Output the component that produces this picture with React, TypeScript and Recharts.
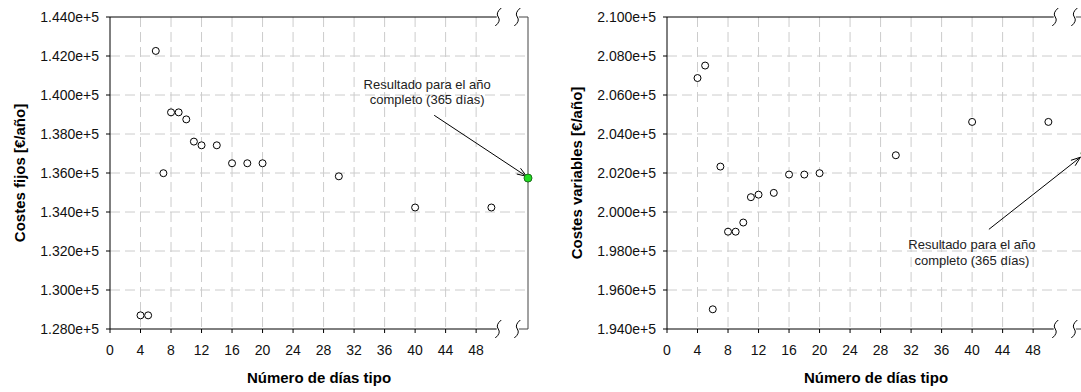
import React from 'react';
import {
  ScatterChart,
  Scatter,
  XAxis,
  YAxis,
  CartesianGrid,
  ReferenceLine,
  ReferenceDot,
} from 'recharts';

// días tipo (eje x)
const diasTipo = [4, 5, 6, 7, 8, 9, 10, 11, 12, 14, 16, 18, 20, 30, 40, 50];
const costesFijos = [
  128700, 128700, 142260, 135990, 139110, 139110, 138750, 137610,
  137420, 137420, 136500, 136500, 136500, 135830, 134230, 134230,
];
const costesVariables = [
  206870, 207510, 195010, 202330, 198990, 198990, 199460, 200760,
  200890, 200980, 201920, 201920, 201990, 202910, 204620, 204620,
];
// resultado año completo (365 días), dibujado tras el corte del eje
const anioCompletoFijos = 135740;
const anioCompletoVariables = 203010;

const xTicks = [0, 4, 8, 12, 16, 20, 24, 28, 32, 36, 40, 44, 48];
const yTicksFijos = [128000, 130000, 132000, 134000, 136000, 138000, 140000, 142000, 144000];
const yTicksVariables = [194000, 196000, 198000, 200000, 202000, 204000, 206000, 208000, 210000];

const X_MAX = 54.8;
const FONT = '"Liberation Sans", Arial, sans-serif';

const OpenCircle = (p: any) => (
  <circle cx={p.cx} cy={p.cy} r={3.5} fill="#fff" stroke="#000" strokeWidth={1} />
);
const GreenCircle = (p: any) => (
  <circle cx={p.cx} cy={p.cy} r={4} fill="#22dd22" stroke="#1a6e1a" strokeWidth={1} />
);

const Squiggle = (p: any) => {
  const { cx, cy } = p;
  return (
    <path
      d={`M${cx + 3},${cy - 9} Q${cx - 3},${cy - 4} ${cx},${cy} Q${cx + 3},${cy + 4} ${cx - 3},${cy + 9}`}
      fill="none"
      stroke="#000"
      strokeWidth={1}
    />
  );
};

const makeArrow = (textDx: number, textDy: number, gap: number) => (p: any) => {
  const { x1, y1, x2, y2 } = p;
  const ang = Math.atan2(y2 - y1, x2 - x1);
  const L = 10;
  const w = 0.35;
  const a = [x2 - L * Math.cos(ang - w), y2 - L * Math.sin(ang - w)];
  const b = [x2 - L * Math.cos(ang + w), y2 - L * Math.sin(ang + w)];
  return (
    <g>
      <line x1={x1} y1={y1} x2={x2} y2={y2} stroke="#000" strokeWidth={1} />
      <polyline points={`${a[0]},${a[1]} ${x2},${y2} ${b[0]},${b[1]}`} fill="none" stroke="#000" strokeWidth={1} />
      <text x={x1 + textDx} y={y1 + textDy} textAnchor="middle" fontSize={13} fill="#222" fontFamily={FONT}>
        Resultado para el año
      </text>
      <text x={x1 + textDx} y={y1 + textDy + gap} textAnchor="middle" fontSize={13} fill="#222" fontFamily={FONT}>
        completo (365 días)
      </text>
    </g>
  );
};

const Line = (p: any) => (
  <line x1={p.x1} y1={p.y1} x2={p.x2} y2={p.y2} stroke={p.stroke} strokeWidth={1} />
);

type PanelProps = {
  values: number[];
  full: number;
  yTicks: number[];
  yLabel: string;
  arrowFrom: { x: number; y: number };
  arrowTo: { x: number; y: number };
  textDx: number;
  textDy: number;
  gap: number;
};

const Panel = ({ values, full, yTicks, yLabel, arrowFrom, arrowTo, textDx, textDy, gap }: PanelProps) => {
  const points = diasTipo.map((d, i) => ({ x: d, y: values[i] }));
  const fullPoint = [{ x: X_MAX, y: full }];
  const yMin = yTicks[0];
  const yMax = yTicks[yTicks.length - 1];
  const tick = { fill: '#111', fontSize: 14, fontFamily: FONT };
  return (
    <ScatterChart width={540} height={392} margin={{ top: 17, right: 12, left: 0, bottom: 0 }}>
      <CartesianGrid
        stroke="#cccccc"
        strokeDasharray="10 5"
        horizontalValues={yTicks.slice(1, -1)}
        verticalValues={xTicks.slice(1)}
      />
      <XAxis
        type="number"
        dataKey="x"
        domain={[0, X_MAX]}
        ticks={xTicks}
        axisLine={false}
        tickLine={{ stroke: '#000' }}
        tickSize={4}
        tickMargin={12}
        height={63}
        tick={tick}
        label={{
          value: 'Número de días tipo',
          position: 'insideBottom',
          offset: 9,
          style: { fontWeight: 'bold', fontSize: 15, fill: '#000', fontFamily: FONT },
        }}
      />
      <YAxis
        type="number"
        dataKey="y"
        domain={[yMin, yMax]}
        ticks={yTicks}
        axisLine={{ stroke: '#000' }}
        tickLine={{ stroke: '#000' }}
        tickSize={4}
        tickMargin={7}
        width={110}
        tick={tick}
        tickFormatter={(v: number) => (v / 1e5).toFixed(3) + 'e+5'}
        label={{
          value: yLabel,
          angle: -90,
          position: 'insideLeft',
          offset: 20,
          style: { textAnchor: 'middle', fontWeight: 'bold', fontSize: 15, fill: '#000', fontFamily: FONT },
        }}
      />
      {/* bordes con corte del eje */}
      <ReferenceLine segment={[{ x: 0, y: yMin }, { x: 50.7, y: yMin }]} stroke="#000" shape={Line} />
      <ReferenceLine segment={[{ x: 0, y: yMax }, { x: 50.7, y: yMax }]} stroke="#000" shape={Line} />
      <ReferenceLine segment={[{ x: 53.6, y: yMin }, { x: X_MAX, y: yMin }]} stroke="#444" shape={Line} />
      <ReferenceLine segment={[{ x: 53.6, y: yMax }, { x: X_MAX, y: yMax }]} stroke="#444" shape={Line} />
      <ReferenceLine segment={[{ x: X_MAX, y: yMin }, { x: X_MAX, y: yMax }]} stroke="#444" shape={Line} />
      <ReferenceDot x={50.9} y={yMin} shape={Squiggle} />
      <ReferenceDot x={53.4} y={yMin} shape={Squiggle} />
      <ReferenceDot x={50.9} y={yMax} shape={Squiggle} />
      <ReferenceDot x={53.4} y={yMax} shape={Squiggle} />
      <ReferenceLine segment={[arrowFrom, arrowTo]} stroke="#000" shape={makeArrow(textDx, textDy, gap)} />
      <Scatter data={points} shape={OpenCircle} isAnimationActive={false} />
      <Scatter data={fullPoint} shape={GreenCircle} isAnimationActive={false} />
    </ScatterChart>
  );
};

export default function App() {
  return (
    <div
      style={{
        position: 'absolute',
        left: 0,
        top: 0,
        width: 1081,
        height: 392,
        overflow: 'hidden',
        background: '#fff',
      }}
    >
      <div style={{ position: 'absolute', left: 0, top: 0 }}>
        <Panel
          values={costesFijos}
          full={anioCompletoFijos}
          yTicks={yTicksFijos}
          yLabel="Costes fijos [€/año]"
          arrowFrom={{ x: 42.5, y: 138960 }}
          arrowTo={{ x: 54.6, y: 135830 }}
          textDx={-7}
          textDy={-26}
          gap={15}
        />
      </div>
      <div style={{ position: 'absolute', left: 557, top: 0 }}>
        <Panel
          values={costesVariables}
          full={anioCompletoVariables}
          yTicks={yTicksVariables}
          yLabel="Costes variables [€/año]"
          arrowFrom={{ x: 42.2, y: 199110 }}
          arrowTo={{ x: 54.2, y: 202810 }}
          textDx={-17}
          textDy={20}
          gap={16}
        />
      </div>
    </div>
  );
}
